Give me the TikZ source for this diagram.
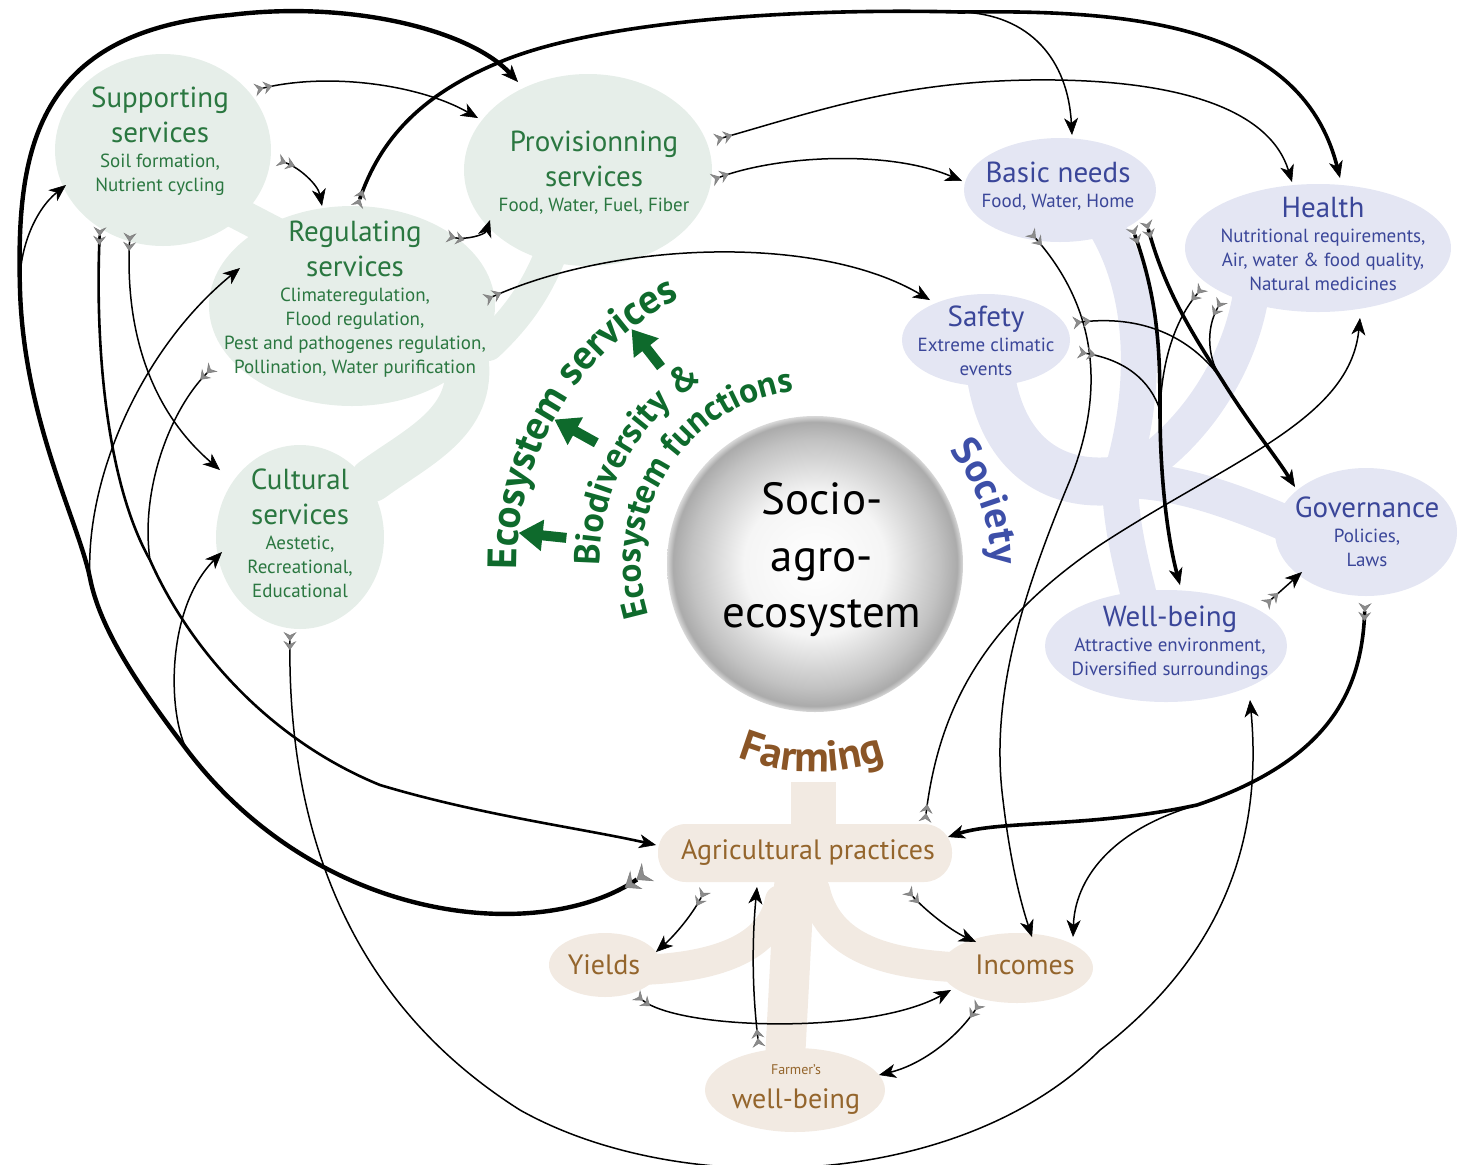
\documentclass[tikz,border=0pt]{standalone}
\usepackage{fontspec}
\setmainfont{PT Sans}
\usetikzlibrary{arrows.meta,positioning,decorations.text}

\definecolor{esfill}{HTML}{E6EEE9}
\definecolor{sofill}{HTML}{E4E6F3}
\definecolor{fafill}{HTML}{F2EAE2}
\definecolor{estext}{HTML}{2A7740}
\definecolor{esdark}{HTML}{0E6A2C}
\definecolor{sotext}{HTML}{3A4699}
\definecolor{sodark}{HTML}{3D4FA8}
\definecolor{fatext}{HTML}{94652C}
\definecolor{fadark}{HTML}{8A5526}

\pgfdeclareradialshading{sphereshade}{\pgfpoint{0bp}{0bp}}{%
  color(0bp)=(white); color(12bp)=(white!96!black); color(21bp)=(black!24);
  color(24bp)=(black!33); color(25bp)=(black!15); color(50bp)=(black!15)}

\newcommand\esarcfont{\bfseries\fontsize{20.5}{24}\selectfont\color{esdark}}
\newcommand\bdarcfont{\bfseries\fontsize{18}{21}\selectfont\color{esdark}}
\newcommand\efarcfont{\bfseries\fontsize{17.5}{20}\selectfont\color{esdark}}
\newcommand\soarcfont{\bfseries\fontsize{20}{23}\selectfont\color{sodark}}
\newcommand\faarcfont{\bfseries\fontsize{21.5}{25}\selectfont\color{fadark}}

\begin{document}
\begin{tikzpicture}[x=0.5pt, y=-0.5pt,
  fletch/.tip={Stealth[reversed,length=4.5pt,width=6.5pt,inset=1.6pt,line width=0.3pt,color=black!50,fill=black!45]Stealth[reversed,length=4.5pt,width=6.5pt,inset=1.6pt,line width=0.3pt,color=black!50,fill=black!45]},
  bigfletch/.tip={Stealth[reversed,length=7pt,width=11pt,inset=2.5pt,line width=0.3pt,color=black!50,fill=black!45]Stealth[reversed,length=7pt,width=11pt,inset=2.5pt,line width=0.3pt,color=black!50,fill=black!45]},
  hd/.tip={Stealth[length=8.5pt,width=7pt,inset=2.5pt,line width=0.3pt]},
  flow/.style={line width=0.75pt, arrows={fletch-hd}},
  midflow/.style={line width=1.3pt, arrows={fletch-hd}},
  thickflow/.style={line width=1.8pt, arrows={fletch-hd}},
  bigflow/.style={line width=2.2pt, arrows={bigfletch-hd}},
  merge/.style={line width=0.75pt, arrows={fletch-}},
  split/.style={line width=0.75pt, arrows={-hd}},
  esarrow/.style={draw=esdark, line width=5pt, arrows={-{Triangle[length=12pt,width=15pt]}}},
  esarm/.style={draw=esfill, line cap=round, line width=#1}, esarm/.default=16pt,
  soarm/.style={draw=sofill, line cap=round, line width=#1}, soarm/.default=18pt,
  faarm/.style={draw=fafill, line cap=round, line width=#1}, faarm/.default=15pt,
  estitle/.style={text=estext, font=\fontsize{14.5}{17.5}\selectfont, align=center, inner sep=0pt},
  esdetail/.style={text=estext, font=\fontsize{9.5}{12}\selectfont, align=center, inner sep=0pt},
  sotitle/.style={estitle, text=sotext},
  sodetail/.style={esdetail, text=sotext},
  fatitle/.style={text=fatext, font=\fontsize{14}{17}\selectfont, inner sep=0pt},
  saetext/.style={font=\fontsize{22.5}{28.25}\selectfont, align=center, inner sep=0pt}
]
\useasboundingbox (0,0) rectangle (1464,1164);

% ecosystem services
\fill[esfill] (163,150) ellipse[x radius=108, y radius=96];
\fill[esfill] (352,306) ellipse[x radius=143, y radius=100];
\fill[esfill] (588,170) ellipse[x radius=124, y radius=96];
\fill[esfill] (300,537) ellipse[x radius=84, y radius=92];
\draw[esarm] (235,212) -- (285,238);
\draw[esarm] (556,240) .. controls (540,285) and (520,315) .. (488,345);
\draw[esarm=22pt] (465,350) .. controls (480,420) and (420,445) .. (372,480);

% society
\fill[sofill] (1060,190) ellipse[x radius=96, y radius=52];
\fill[sofill] (1318,248) ellipse[x radius=133, y radius=64];
\fill[sofill] (986,340) ellipse[x radius=84, y radius=46];
\fill[sofill] (1366,532) ellipse[x radius=91, y radius=64];
\fill[sofill] (1166,646) ellipse[x radius=121, y radius=56];
\draw[soarm] (1105,225) .. controls (1150,300) and (1145,400) .. (1120,480);
\draw[soarm] (1250,300) .. controls (1235,380) and (1180,450) .. (1120,480);
\draw[soarm=24pt] (990,370) .. controls (1000,450) and (1050,490) .. (1120,480);
\draw[soarm] (1290,525) .. controls (1220,495) and (1170,480) .. (1120,480);
\draw[soarm] (1140,600) .. controls (1130,560) and (1120,520) .. (1120,480);

% farming
\fill[fafill, rounded corners=14pt] (658,824) rectangle (952,882);
\fill[fafill] (791,782) rectangle (836,832);
\fill[fafill] (605,965) ellipse[x radius=56, y radius=32];
\fill[fafill] (1017,968) ellipse[x radius=76, y radius=35];
\fill[fafill] (795,1090) ellipse[x radius=90, y radius=42];
\draw[faarm=20pt] (795,870) -- (785,1060);
\draw[faarm] (780,900) .. controls (770,955) and (700,968) .. (640,970);
\draw[faarm] (815,890) .. controls (830,955) and (900,965) .. (970,968);

% socio-agro-ecosystem
\node[circle, minimum size=148pt, inner sep=0pt, shade, shading=sphereshade] (sae) at (815,564) {};
\node[saetext] (saet) at (822,560) {Socio-\\agro-\\ecosystem};

\path[decorate, decoration={text along path, text align=center, text={|\esarcfont|Ecosystem services}}]
  ([shift={(170:298)}]sae.center) arc[start angle=170, end angle=252, radius=298];
\path[decorate, decoration={text along path, text align=center, text={|\bdarcfont|Biodiversity {\&}}}]
  ([shift={(176:215)}]sae.center) arc[start angle=176, end angle=242, radius=215];
\path[decorate, decoration={text along path, text align=center, text={|\efarcfont|Ecosystem functions}}]
  ([shift={(156:174)}]sae.center) arc[start angle=156, end angle=270, radius=174];
\path[decorate, decoration={text along path, text align=center, text={|\soarcfont|Society}}]
  ([shift={(313:176)}]sae.center) arc[start angle=313, end angle=367, radius=176];
\path[decorate, decoration={text along path, text align=center, text={|\faarcfont|Farming}}]
  ([shift={(121:208)}]sae.center) arc[start angle=121, end angle=61, radius=208];
\foreach \a in {186,209,232}
  \draw[esarrow] ([shift={(\a:250)}]sae.center) -- ([shift={(\a:298)}]sae.center);

% labels
\node[estitle] (sup) at (160,115) {Supporting\\services};
\node[esdetail, below=5pt of sup] (supd) {Soil formation,\\Nutrient cycling};
\node[estitle] (reg) at (355,249) {Regulating\\services};
\node[esdetail, below=5pt of reg] (regd) {Climateregulation,\\Flood regulation,\\Pest and pathogenes regulation,\\Pollination, Water purification};
\node[estitle] (prov) at (594,159) {Provisionning\\services};
\node[esdetail, below=5pt of prov] (provd) {Food, Water, Fuel, Fiber};
\node[estitle] (cul) at (300,497) {Cultural\\services};
\node[esdetail, below=5pt of cul] (culd) {Aestetic,\\Recreational,\\Educational};

\node[sotitle] (bas) at (1058,172.5) {Basic needs};
\node[sodetail, below=5pt of bas] (basd) {Food, Water, Home};
\node[sotitle] (hea) at (1323,207.5) {Health};
\node[sodetail, below=5pt of hea] (heald) {Nutritional requirements,\\Air, water \& food quality,\\Natural medicines};
\node[sotitle] (saf) at (986,319.5) {Safety};
\node[sodetail, below=2pt of saf] (safd) {Extreme climatic\\events};
\node[sotitle] (gov) at (1367,507.5) {Governance};
\node[sodetail, below=5pt of gov] (govd) {Policies,\\Laws};
\node[sotitle] (wel) at (1170,619.5) {Well-being};
\node[sodetail, below=2pt of wel] (weld) {Attractive environment,\\Diversified surroundings};

\node[fatitle] (agr) at (808,853) {Agricultural practices};
\node[fatitle] (yie) at (604,965) {Yields};
\node[fatitle] (inc) at (1025,965) {Incomes};
\node[fatitle, font=\fontsize{7}{8}\selectfont] (farf) at (796,1070) {Farmer's};
\node[fatitle] (far) at (796,1102) {well-being};

% connector ends
\coordinate (sup-o1) at (255,90);
\coordinate (sup-o2) at (278,160);
\coordinate (sup-o3) at (100,227);
\coordinate (sup-o4) at (130,233);
\coordinate (sup-i) at (66,185);
\coordinate (reg-o1) at (447,236);
\coordinate (reg-o2) at (485,300);
\coordinate (reg-o3) at (357,207);
\coordinate (reg-o4) at (213,367);
\coordinate (reg-i1) at (322,206);
\coordinate (reg-i2) at (240,268);
\coordinate (prov-i1) at (478,118);
\coordinate (prov-i2) at (490,220);
\coordinate (prov-i3) at (518,82);
\coordinate (prov-o1) at (715,140);
\coordinate (prov-o2) at (712,180);
\coordinate (cul-i1) at (220,470);
\coordinate (cul-i2) at (222,552);
\coordinate (cul-o) at (290,632);
\coordinate (bas-i1) at (962,181);
\coordinate (bas-i2) at (1072,135);
\coordinate (bas-o1) at (1030,232);
\coordinate (bas-o2) at (1132,227);
\coordinate (bas-o3) at (1146,221);
\coordinate (hea-i1) at (1292,182);
\coordinate (hea-i2) at (1340,178);
\coordinate (hea-i3) at (1360,318);
\coordinate (hea-o1) at (1203,287);
\coordinate (hea-o2) at (1222,300);
\coordinate (saf-i) at (930,300);
\coordinate (saf-o1) at (1073,323);
\coordinate (saf-o2) at (1078,352);
\coordinate (gov-i1) at (1295,487);
\coordinate (gov-i2) at (1302,572);
\coordinate (gov-o) at (1365,603);
\coordinate (wel-i1) at (1180,585);
\coordinate (wel-i2) at (1250,700);
\coordinate (wel-o) at (1265,605);
\coordinate (agr-i1) at (656,845);
\coordinate (agr-i2) at (948,837);
\coordinate (agr-i3) at (757,887);
\coordinate (agr-o1) at (648,872);
\coordinate (agr-o2) at (705,890);
\coordinate (agr-o3) at (907,890);
\coordinate (agr-o4) at (925,822);
\coordinate (yie-i) at (656,952);
\coordinate (yie-o) at (636,995);
\coordinate (inc-i1) at (976,942);
\coordinate (inc-i2) at (1032,937);
\coordinate (inc-i3) at (1073,937);
\coordinate (inc-i4) at (951,990);
\coordinate (inc-o) at (980,1003);
\coordinate (far-i) at (879,1075);
\coordinate (far-o) at (759,1047);
% junctions
\coordinate (jtop) at (960,12);
\coordinate (jcul) at (187,750);
\coordinate (jreg) at (90,578);
\coordinate (jsup) at (20,290);
\coordinate (jagr) at (150,560);
\coordinate (jwel) at (1160,410);
\coordinate (jgov) at (1222,380);
\coordinate (jinc) at (1197,805);

% ecosystem services
\draw[flow] (sup-o1) .. controls (330,72) and (420,85) .. (prov-i1);
\draw[flow] (sup-o2) .. controls (300,168) and (318,185) .. (reg-i1);
\draw[flow] (reg-o1) .. controls (465,240) and (485,235) .. (prov-i2);
\draw[flow] (sup-o4) .. controls (125,330) and (150,410) .. (cul-i1);
% ecosystem services to society
\draw[flow] (reg-o2) .. controls (620,240) and (820,235) .. (saf-i);
\draw[flow] (prov-o2) .. controls (780,155) and (890,150) .. (bas-i1);
\draw[flow] (prov-o1) .. controls (820,110) and (900,82) .. (1030,80) .. controls (1180,78) and (1270,110) .. (hea-i1);
\draw[thickflow] (reg-o3) .. controls (380,140) and (420,95) .. (500,62) .. controls (600,20) and (800,8) .. (jtop) .. controls (1120,10) and (1300,20) .. (hea-i2);
\draw[split] (jtop) .. controls (1030,14) and (1068,60) .. (bas-i2);
\draw[flow] (cul-o) .. controls (288,800) and (330,990) .. (520,1110) .. controls (680,1200) and (960,1190) .. (1100,1050) .. controls (1230,950) and (1262,830) .. (wel-i2);
% ecosystem services to farming
\draw[midflow] (sup-o3) .. controls (95,340) and (105,480) .. (jagr) .. controls (190,650) and (270,740) .. (380,785) .. controls (480,815) and (580,828) .. (agr-i1);
\draw[merge] (reg-o4) .. controls (170,410) and (140,490) .. (jagr);
% farming to ecosystem services
\draw[bigflow] (agr-o1) .. controls (540,945) and (320,925) .. (jcul) .. controls (140,688) and (100,630) .. (jreg) .. controls (78,520) and (24,420) .. (jsup) .. controls (16,150) and (35,32) .. (230,15) .. controls (350,0) and (470,30) .. (prov-i3);
\draw[split] (jcul) .. controls (168,715) and (165,610) .. (cul-i2);
\draw[split] (jreg) .. controls (85,480) and (140,350) .. (reg-i2);
\draw[split] (jsup) .. controls (18,250) and (35,210) .. (sup-i);
% society
\draw[flow] (bas-o1) .. controls (1090,300) and (1110,380) .. (1070,480) .. controls (1020,600) and (990,700) .. (1003,800) .. controls (1010,860) and (1020,900) .. (inc-i2);
\draw[thickflow] (bas-o2) .. controls (1158,300) and (1160,350) .. (jwel) .. controls (1160,480) and (1168,540) .. (wel-i1);
\draw[merge] (hea-o1) .. controls (1175,320) and (1162,360) .. (jwel);
\draw[merge] (saf-o2) .. controls (1125,360) and (1150,380) .. (jwel);
\draw[thickflow] (bas-o3) .. controls (1165,290) and (1190,330) .. (jgov) .. controls (1250,425) and (1275,455) .. (gov-i1);
\draw[merge] (hea-o2) .. controls (1205,330) and (1208,360) .. (jgov);
\draw[merge] (saf-o1) .. controls (1140,315) and (1190,335) .. (jgov);
\draw[flow] (wel-o) -- (gov-i2);
% society to farming and back
\draw[thickflow] (gov-o) .. controls (1362,690) and (1330,760) .. (jinc) .. controls (1090,828) and (1000,820) .. (agr-i2);
\draw[split] (jinc) .. controls (1110,830) and (1075,880) .. (inc-i3);
\draw[flow] (agr-o4) .. controls (940,700) and (990,620) .. (1100,545) .. controls (1230,460) and (1350,420) .. (hea-i3);
% farming
\draw[flow] (agr-o2) .. controls (692,915) and (675,935) .. (yie-i);
\draw[flow] (far-o) .. controls (752,990) and (752,940) .. (agr-i3);
\draw[flow] (agr-o3) .. controls (925,910) and (950,930) .. (inc-i1);
\draw[flow] (yie-o) .. controls (680,1030) and (870,1035) .. (inc-i4);
\draw[flow] (inc-o) .. controls (955,1040) and (920,1065) .. (far-i);
\end{tikzpicture}
\end{document}
